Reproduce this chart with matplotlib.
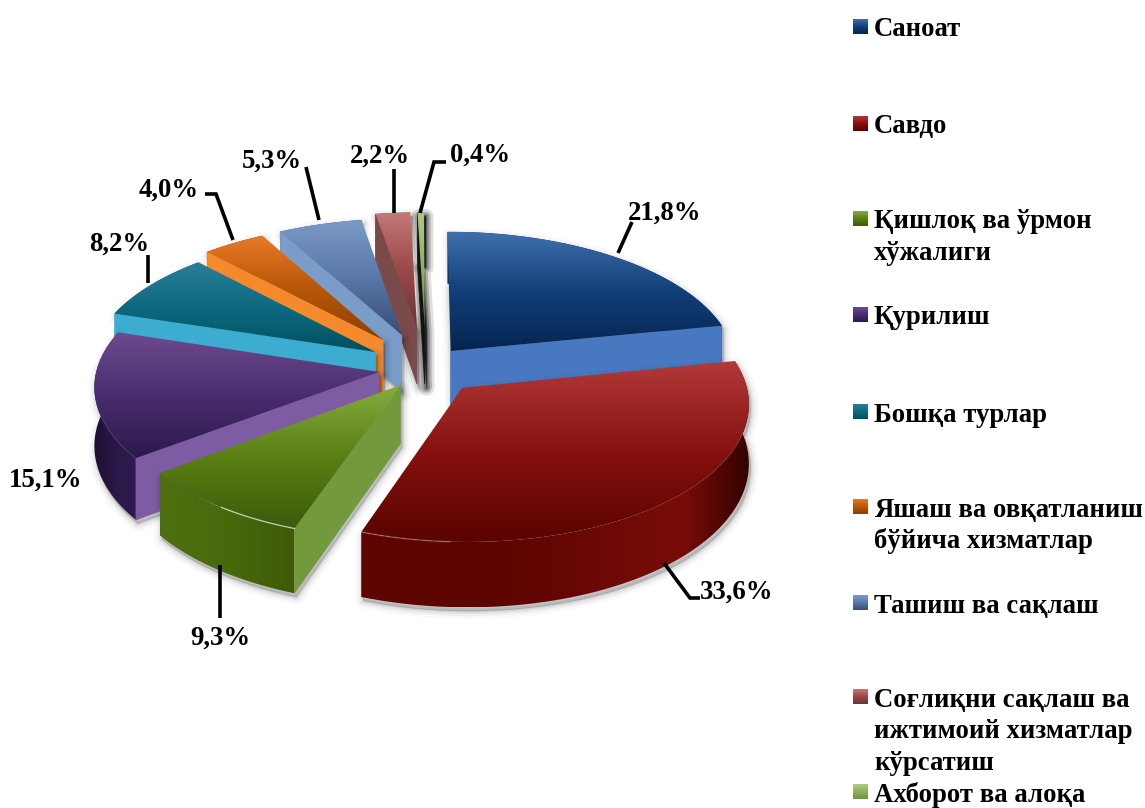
import numpy as np
import matplotlib
matplotlib.use("Agg")
import matplotlib.pyplot as plt
from matplotlib.colors import LinearSegmentedColormap
from matplotlib.patches import Polygon

plt.rcParams['font.family'] = ['Liberation Serif', 'DejaVu Serif']

categories = ["Саноат", "Савдо", "Қишлоқ ва ўрмон\nхўжалиги", "Қурилиш", "Бошқа турлар",
              "Яшаш ва овқатланиш\nбўйича хизматлар", "Ташиш ва сақлаш",
              "Соғлиқни сақлаш ва\nижтимоий хизматлар\nкўрсатиш", "Ахборот ва алоқа"]
values = [21.8, 33.6, 9.3, 15.1, 8.2, 4.0, 5.3, 2.2, 0.4]
value_labels = ["21,8%", "33,6%", "9,3%", "15,1%", "8,2%", "4,0%", "5,3%", "2,2%", "0,4%"]

# how far each slice is pulled out of the pie, and its width factor
explode_x = [0.126, 0.162, -0.050, -0.125, -0.140, -0.114, -0.047, 0.007, 0.035]
explode_y = [0.150, -0.124, -0.103, -0.007, 0.143, 0.235, 0.273, 0.330, 0.330]
width_scale = [1, 0.98, 0.97, 0.985, 1, 1, 1, 1, 1]

top_colors = [["#3f70ae", "#123f78", "#052550"], ["#b23a3a", "#86110e", "#5a0400"],
              ["#86ac3e", "#5a7f14", "#3c5a0a"], ["#6c4c8e", "#4a2c70", "#2c1a4c"],
              ["#2a7f98", "#0e6a80", "#00505f"], ["#e87a28", "#b85808", "#8a4000"],
              ["#7a9ac8", "#5a78a8", "#384c78"], ["#c47878", "#9a4848", "#6a3434"],
              ["#b0cc88", "#8fb060", "#6f9040"]]
wall_colors = [["#0a2a58", "#0a2a58", "#072048"],
               ["#5e0500", "#5e0500", "#5e0500", "#640604", "#700a06", "#780c08", "#340200"],
               ["#4f7010", "#486a0c", "#3f5a08"], ["#1c1030", "#2a1848", "#301c50"],
               ["#00485a", "#00505f", "#005a6a"], ["#8a4000", "#8a4000", "#8a4000"],
               ["#384c78", "#384c78", "#384c78"], ["#6a3434", "#6a3434", "#6a3434"],
               ["#6f9040", "#6f9040", "#6f9040"]]
cut_colors = ["#4878c0", "#c0504d", "#729a3c", "#7d5ca3", "#3cacd0", "#f58a2c", "#7a9cc8", "#7a4a4a", "#141414"]
bevel_alpha = [0, 0.25, 0.6, 0, 0, 0, 0, 0, 0]
bevel_span = [(0, 0), (0.86, 1.0), (0.02, 0.5), (0, 0), (0, 0), (0, 0), (0, 0), (0, 0), (0, 0)]
shadow_gain = [1, 1, 1, 1, 1, 1, 1, 1.5, 5]
draw_order = [8, 7, 6, 5, 4, 3, 2, 0, 1]

label_xy = [(665, 213), (737, 592), (220, 638), (46, 480), (119, 244),
            (169, 190), (272, 161), (380, 156), (480, 155)]
leaders = [[(632, 222), (618, 253)], [(664, 563), (690, 598), (700, 598)], [(220, 565), (220, 618)],
           [], [(148, 255), (148, 283)], [(205, 194), (216, 194), (233, 240)], [(306, 167), (319, 220)],
           [(394, 169), (394, 213)], [(446, 162), (434, 162), (420, 213)]]
legend_y = [28, 125, 220, 316, 413, 508, 604, 698, 793]

cx, cy, rx, ry, depth, persp = 415, 371, 287, 135, 58, 0.1


def project(X, Y, lift=0.0):
    s = 1 / (1 + persp * np.asarray(Y))
    return cx + rx * np.asarray(X) * s, cy - ry * np.asarray(Y) * s + depth * np.asarray(lift) * s


def gradient(ax, pts, stops, z, vertical=True):
    # gradient image cut to the polygon
    pts = np.asarray(pts)
    x0, y0 = pts.min(axis=0)
    x1, y1 = pts.max(axis=0)
    cmap = LinearSegmentedColormap.from_list("g", stops)
    g = np.linspace(0, 1, 256)
    arr = g[:, None] if vertical else g[None, :]
    im = ax.imshow(arr, cmap=cmap, extent=(x0, x1, y1, y0), aspect="auto", zorder=z, interpolation="bilinear")
    patch = Polygon(pts, closed=True, transform=ax.transData, facecolor="none", edgecolor="none")
    ax.add_patch(patch)
    im.set_clip_path(patch)


fig = plt.figure(figsize=(11.45, 8.08), dpi=100)
ax = fig.add_axes([0, 0, 1, 1])

edges = np.cumsum([0] + values) / sum(values) * 2 * np.pi

for rank, i in enumerate(draw_order):
    a, b = edges[i], edges[i + 1]
    t = np.linspace(a, b, max(int((b - a) * 60), 4))
    X = explode_x[i] + width_scale[i] * np.sin(t)
    Y = explode_y[i] + np.cos(t)
    ox, oy = explode_x[i], explode_y[i]

    top = np.column_stack(project(np.r_[ox, X], np.r_[oy, Y]))
    arc_top = np.column_stack(project(X, Y))
    arc_bot = np.column_stack(project(X, Y, 1))
    apex_bot = np.column_stack(project([ox], [oy], 1))
    wall = np.vstack([arc_top, arc_bot[::-1]])
    z = 10 + rank * 10

    # soft shadow under the slice
    base = np.vstack([top[0], arc_top, arc_bot[::-1], apex_bot])
    for w, al in zip([11, 7, 4, 1.5], [0.025, 0.04, 0.05, 0.07]):
        ax.add_patch(Polygon(base + [2, 4], closed=True, facecolor="#000000", edgecolor="#000000",
                             lw=w, alpha=min(al * shadow_gain[i], 0.4), joinstyle="round", zorder=z))

    gradient(ax, wall, wall_colors[i], z + 1, vertical=False)

    # cut face looking towards the viewer
    for ang, seen in ((a, np.sin(a) < 0), (b, np.sin(b) > 0)):
        if seen:
            tx, ty = ox + width_scale[i] * np.sin(ang), oy + np.cos(ang)
            face = np.column_stack(project([ox, tx, tx, ox], [oy, ty, ty, oy], [0, 0, 1, 1]))
            ax.add_patch(Polygon(face, closed=True, facecolor=cut_colors[i], edgecolor=cut_colors[i], lw=0.5, zorder=z + 2))

    gradient(ax, top, top_colors[i], z + 3)
    if bevel_alpha[i] > 0:
        n = len(arc_top)
        lo, hi = bevel_span[i]
        seg = arc_top[int(lo * n):int(hi * n)]
        ax.plot(seg[:, 0], seg[:, 1], color="#ffffff", lw=1, alpha=bevel_alpha[i], zorder=z + 4)

for seg in leaders:
    if seg:
        xs, ys = zip(*seg)
        ax.plot(xs, ys, color="black", lw=2.6, solid_capstyle="butt", solid_joinstyle="miter", zorder=200)

for lab, (lx, ly) in zip(value_labels, label_xy):
    ax.text(lx, ly, lab, fontsize=19.3, fontweight="bold", ha="center", va="center", color="black", zorder=210)

for i, name in enumerate(categories):
    y = legend_y[i]
    sq = [(853, y - 9), (868, y - 9), (868, y + 6), (853, y + 6)]
    gradient(ax, sq, top_colors[i], 220)
    for j, line in enumerate(name.split("\n")):
        ax.text(874, y + 2 + j * 31.5, line, fontsize=19.3, fontweight="bold", ha="left", va="center", color="black", zorder=220)

ax.set_xlim(0, 1145)
ax.set_ylim(808, 0)
ax.axis("off")
fig.savefig("out.png", dpi=100, facecolor="white")
